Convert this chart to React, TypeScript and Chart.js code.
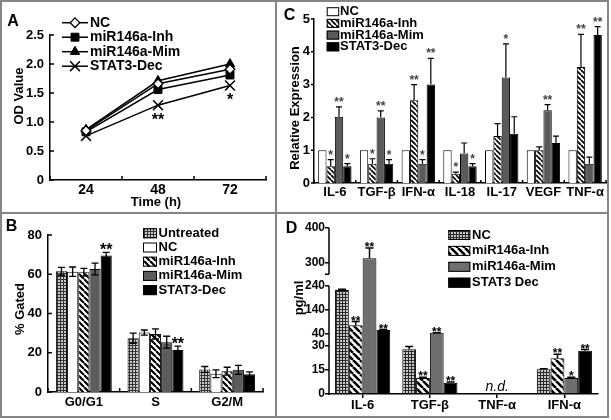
import React, { useEffect, useRef } from "react";
import { Chart, registerables, LinearScale } from "chart.js";

Chart.register(...registerables);

const FONT = "'Liberation Sans', Arial, Helvetica, sans-serif";

// ---------------- Panel A (line) ----------------
const timeLabels = ["24", "48", "72"];
const odNC = [0.85, 1.66, 1.91];
const odInh = [0.83, 1.56, 1.81];
const odMim = [0.87, 1.71, 2.0];
const odStat = [0.76, 1.29, 1.63];
const odStatStars = ["", "**", "*"];

// ---------------- Panel B (cell cycle) ----------------
const phaseLabels = ["G0/G1", "S", "G2/M"];
const gUntreated = [61.5, 27.4, 11.5];
const gUntreatedErr = [2.0, 2.6, 1.5];
const gNC = [61.3, 30.3, 9.3];
const gNCErr = [2.4, 1.3, 2.0];
const gInh = [61.0, 29.6, 10.6];
const gInhErr = [2.0, 2.6, 2.0];
const gMim = [62.7, 25.4, 11.3];
const gMimErr = [3.0, 3.0, 2.3];
const gStat = [69.6, 21.4, 9.1];
const gStatErr = [1.5, 2.0, 1.2];
const gStatStars = ["**", "**", ""];

// ---------------- Panel C (relative expression) ----------------
const cytoLabelsC = ["IL-6", "TGF-\u03b2", "IFN-\u03b1", "IL-18", "IL-17", "VEGF", "TNF-\u03b1"];
const cNC = [1, 1, 1, 1, 1, 1, 1];
const cInh = [0.51, 0.59, 2.52, 0.28, 1.43, 1.0, 3.54];
const cInhErr = [0.2, 0.15, 0.48, 0.05, 0.38, 0.1, 0.99];
const cInhStars = ["*", "*", "**", "*", "", "", "**"];
const cMim = [2.02, 2.0, 0.59, 0.9, 3.22, 2.22, 0.59];
const cMimErr = [0.3, 0.2, 0.12, 0.32, 1.02, 0.17, 0.2];
const cMimStars = ["**", "**", "*", "", "*", "**", ""];
const cStat = [0.51, 0.59, 3.0, 0.51, 1.5, 1.22, 4.51];
const cStatErr = [0.08, 0.12, 0.8, 0.08, 0.52, 0.21, 0.26];
const cStatStars = ["*", "*", "**", "*", "", "", "**"];

// ---------------- Panel D (pg/ml) ----------------
const cytoLabelsD = ["IL-6", "TGF-\u03b2", "TNF-\u03b1", "IFN-\u03b1"];
const dNC = [223, 28, null, 15.5];
const dNCErr = [3, 1.7, 0, 0.3];
const dInh = [77, 10, null, 22.3];
const dInhErr = [15, 0.4, 0, 2.5];
const dInhStars = ["**", "**", "", "**"];
const dMim = [313, 45, null, 10];
const dMimErr = [29, 0.8, 0, 0.5];
const dMimStars = ["**", "**", "", "*"];
const dStat = [57, 7, null, 27];
const dStatErr = [2, 0.5, 0, 0.8];
const dStatStars = ["**", "**", "", "**"];
const dTicks = [0, 15, 30, 40, 140, 240, 300, 400];
const dBreakValues = [0, 30, 40, 240, 300, 400];

// ---------------- broken linear scale ----------------
class BrokenScale extends LinearScale {
  static id = "broken";
  static defaults = (LinearScale as any).defaults;
  buildTicks() {
    super.buildTicks();
    const tv = (this.options as any).tickValues as number[];
    return tv.map((v) => ({ value: v }));
  }
  _dec(v: number) {
    const o: any = this.options;
    const vals: number[] = o.breakValues;
    const fr: number[] = o.breakFractions;
    for (let i = 1; i < vals.length; i++) {
      if (v <= vals[i] || i === vals.length - 1) {
        const t = (v - vals[i - 1]) / (vals[i] - vals[i - 1]);
        return fr[i - 1] + t * (fr[i] - fr[i - 1]);
      }
    }
    return 0;
  }
  getPixelForValue(v: any) {
    if (v === null || v === undefined || isNaN(v)) return NaN;
    return this.getPixelForDecimal(this._dec(+v));
  }
  getValueForPixel(p: number) {
    const d = this.getDecimalForPixel(p);
    const o: any = this.options;
    const vals: number[] = o.breakValues;
    const fr: number[] = o.breakFractions;
    for (let i = 1; i < fr.length; i++) {
      if (d <= fr[i] || i === fr.length - 1) {
        const t = (d - fr[i - 1]) / (fr[i] - fr[i - 1]);
        return vals[i - 1] + t * (vals[i] - vals[i - 1]);
      }
    }
    return 0;
  }
}
Chart.register(BrokenScale as any);

// ---------------- patterns ----------------
function makeHatch(size: number, lw: number) {
  const c = document.createElement("canvas");
  c.width = size;
  c.height = size;
  const g = c.getContext("2d")!;
  g.fillStyle = "#fff";
  g.fillRect(0, 0, size, size);
  g.strokeStyle = "#000";
  g.lineWidth = lw;
  g.beginPath();
  for (const o of [-size, 0, size]) {
    g.moveTo(o, 0);
    g.lineTo(o + size, size);
  }
  g.stroke();
  return g.createPattern(c, "repeat")!;
}
function makeChecker(dark: string, light: string) {
  const c = document.createElement("canvas");
  c.width = 3;
  c.height = 3;
  const g = c.getContext("2d")!;
  g.fillStyle = dark;
  g.fillRect(0, 0, 3, 3);
  g.fillStyle = light;
  g.fillRect(1, 1, 2, 2);
  return g.createPattern(c, "repeat")!;
}

// ---------------- decoration plugin ----------------
type Decor = {
  legend?: { kind: "line" | "box"; x: number; y: number; step: number; boxW: number; boxH: number; textX: number; font: string };
  xTicks?: { len: number };
  yTicks?: { len: number; dir: "in" | "out" };
  err?: { both: boolean; cap: number; width: number };
  stars?: { font: string; color: string; gap: number; below?: boolean };
  broken?: { upper: [number, number]; lower: [number, number]; endTickLen: number };
  nd?: { text: string; font: string; dy: number };
};

function drawMarker(ctx: CanvasRenderingContext2D, style: string, x: number, y: number, r: number, fill: string, lw: number) {
  ctx.save();
  ctx.strokeStyle = "#000";
  ctx.fillStyle = fill;
  ctx.lineWidth = lw;
  ctx.beginPath();
  if (style === "rectRot") {
    ctx.moveTo(x, y - r);
    ctx.lineTo(x + r, y);
    ctx.lineTo(x, y + r);
    ctx.lineTo(x - r, y);
    ctx.closePath();
    ctx.fill();
    ctx.stroke();
  } else if (style === "rect") {
    const s = Math.SQRT1_2 * r;
    ctx.rect(x - s, y - s, 2 * s, 2 * s);
    ctx.fill();
    ctx.stroke();
  } else if (style === "triangle") {
    let a = 0;
    for (let k = 0; k < 3; k++) {
      const px = x + Math.sin(a) * r;
      const py = y - Math.cos(a) * r;
      if (k === 0) ctx.moveTo(px, py);
      else ctx.lineTo(px, py);
      a += (2 * Math.PI) / 3;
    }
    ctx.closePath();
    ctx.fill();
    ctx.stroke();
  } else if (style === "crossRot") {
    const o = Math.SQRT1_2 * r;
    ctx.moveTo(x - o, y - o);
    ctx.lineTo(x + o, y + o);
    ctx.moveTo(x - o, y + o);
    ctx.lineTo(x + o, y - o);
    ctx.stroke();
  }
  ctx.restore();
}

function makeDecor(d: Decor) {
  return {
    id: "decor",
    afterDatasetsDraw(chart: any) {
      const ctx: CanvasRenderingContext2D = chart.ctx;
      const ys = chart.scales.y;
      ctx.save();
      chart.data.datasets.forEach((ds: any, di: number) => {
        const meta = chart.getDatasetMeta(di);
        meta.data.forEach((el: any, i: number) => {
          const v = ds.data[i];
          if (v === null || v === undefined) return;
          const x = el.x;
          let top = el.y;
          if (d.err && ds.errors && ds.errors[i]) {
            const e = ds.errors[i];
            const yt = ys.getPixelForValue(v + e);
            const yb = d.err.both ? ys.getPixelForValue(v - e) : el.y;
            ctx.strokeStyle = "#000";
            ctx.lineWidth = d.err.width;
            ctx.beginPath();
            ctx.moveTo(x, yt);
            ctx.lineTo(x, yb);
            ctx.moveTo(x - d.err.cap, yt);
            ctx.lineTo(x + d.err.cap, yt);
            if (d.err.both) {
              ctx.moveTo(x - d.err.cap, yb);
              ctx.lineTo(x + d.err.cap, yb);
            }
            ctx.stroke();
            top = yt;
          }
          if (d.stars && ds.stars && ds.stars[i]) {
            ctx.font = d.stars.font;
            ctx.fillStyle = d.stars.color;
            ctx.textAlign = "center";
            ctx.textBaseline = "alphabetic";
            const y = d.stars.below ? el.y + d.stars.gap : top - d.stars.gap;
            ctx.fillText(ds.stars[i], x, y);
          }
        });
      });
      ctx.restore();
    },
    afterDraw(chart: any) {
      const ctx: CanvasRenderingContext2D = chart.ctx;
      const xs = chart.scales.x;
      const ys = chart.scales.y;
      const area = chart.chartArea;
      ctx.save();
      ctx.strokeStyle = "#000";
      ctx.lineWidth = 1.5;
      if (d.yTicks) {
        const { len, dir } = d.yTicks;
        ctx.beginPath();
        ys.ticks.forEach((t: any) => {
          const y = ys.getPixelForValue(t.value);
          ctx.moveTo(area.left, y);
          ctx.lineTo(dir === "in" ? area.left + len : area.left - len, y);
        });
        ctx.stroke();
      }
      if (d.xTicks) {
        const n = chart.data.labels.length;
        const c0 = xs.getPixelForValue(0);
        const half = n > 1 ? (xs.getPixelForValue(1) - c0) / 2 : (area.right - area.left) / 2;
        ctx.beginPath();
        for (let i = 0; i <= n; i++) {
          const x = i < n ? xs.getPixelForValue(i) - half : xs.getPixelForValue(n - 1) + half;
          ctx.moveTo(x, area.bottom);
          ctx.lineTo(x, area.bottom - d.xTicks.len);
        }
        ctx.stroke();
      }
      if (d.broken) {
        const x = area.left;
        ctx.beginPath();
        ctx.moveTo(x, ys.getPixelForValue(d.broken.upper[0]));
        ctx.lineTo(x, ys.getPixelForValue(d.broken.upper[1]));
        ctx.moveTo(x - d.broken.endTickLen, ys.getPixelForValue(d.broken.upper[1]));
        ctx.lineTo(x, ys.getPixelForValue(d.broken.upper[1]));
        ctx.moveTo(x, ys.getPixelForValue(d.broken.lower[0]));
        ctx.lineTo(x, ys.getPixelForValue(d.broken.lower[1]) + 0.75);
        ctx.stroke();
      }
      if (d.nd) {
        const n = chart.data.labels.length;
        for (let i = 0; i < n; i++) {
          const all = chart.data.datasets.every((ds: any) => ds.data[i] === null || ds.data[i] === undefined);
          if (all) {
            ctx.font = d.nd.font;
            ctx.fillStyle = "#000";
            ctx.textAlign = "center";
            ctx.textBaseline = "middle";
            ctx.fillText(d.nd.text, xs.getPixelForValue(i), ys.getPixelForValue(0) - d.nd.dy);
          }
        }
      }
      if (d.legend) {
        const L = d.legend;
        chart.data.datasets.forEach((ds: any, i: number) => {
          const y = L.y + i * L.step;
          if (L.kind === "line") {
            ctx.strokeStyle = "#000";
            ctx.lineWidth = 1.5;
            ctx.beginPath();
            ctx.moveTo(L.x, y);
            ctx.lineTo(L.x + L.boxW, y);
            ctx.stroke();
            drawMarker(ctx, ds.pointStyle, L.x + L.boxW / 2, y, ds.pointRadius, ds.pointBackgroundColor, ds.pointBorderWidth);
          } else {
            ctx.fillStyle = ds.backgroundColor;
            ctx.fillRect(L.x, y - L.boxH / 2, L.boxW, L.boxH);
            ctx.strokeStyle = "#000";
            ctx.lineWidth = 1;
            ctx.strokeRect(L.x + 0.5, y - L.boxH / 2 + 0.5, L.boxW - 1, L.boxH - 1);
          }
          ctx.font = L.font;
          ctx.fillStyle = "#000";
          ctx.textAlign = "left";
          ctx.textBaseline = "middle";
          ctx.fillText(ds.label, L.textX, y);
        });
      }
      ctx.restore();
    },
  };
}

const bold = (s: number) => `bold ${s}px ${FONT}`;
const tickFont = (s: number) => ({ family: FONT, size: s, weight: "bold" as const });
const axisBorder = { display: true, color: "#000", width: 1.5 };
const noGrid = { display: false, drawTicks: false };
const basePlugins = { legend: { display: false }, tooltip: { enabled: false } };

function configA() {
  return {
    type: "line",
    data: {
      labels: timeLabels,
      datasets: [
        { label: "NC", data: odNC, pointStyle: "rectRot", pointRadius: 4.8, pointBackgroundColor: "#fff", pointBorderWidth: 1.3 },
        { label: "miR146a-Inh", data: odInh, pointStyle: "rect", pointRadius: 5.6, pointBackgroundColor: "#000", pointBorderWidth: 1 },
        { label: "miR146a-Mim", data: odMim, pointStyle: "triangle", pointRadius: 5.4, pointBackgroundColor: "#000", pointBorderWidth: 1 },
        { label: "STAT3-Dec", data: odStat, pointStyle: "crossRot", pointRadius: 7, pointBackgroundColor: "#000", pointBorderWidth: 1.5, stars: odStatStars },
      ].map((ds) => ({ ...ds, borderColor: "#000", borderWidth: 1.5, pointBorderColor: "#000", fill: false, tension: 0 })),
    },
    options: {
      responsive: false,
      animation: false,
      events: [],
      devicePixelRatio: 1,
      layout: { padding: { left: 0, top: 35, right: 10, bottom: 0 } },
      plugins: basePlugins,
      scales: {
        x: {
          offset: true,
          grid: noGrid,
          border: axisBorder,
          ticks: { font: tickFont(14), color: "#000", padding: 2, maxRotation: 0, minRotation: 0 },
          afterFit: (s: any) => { s.height = 33; },
        },
        y: {
          min: 0,
          max: 2.5,
          grid: noGrid,
          border: axisBorder,
          ticks: { stepSize: 0.5, font: tickFont(13), color: "#000", padding: 6, callback: (v: any) => (v === 0 ? "0" : Number(v).toFixed(1)) },
          afterFit: (s: any) => { s.width = 50; },
        },
      },
    },
    plugins: [
      makeDecor({
        xTicks: { len: 4 },
        yTicks: { len: 4, dir: "in" },
        stars: { font: bold(16), color: "#000", gap: 20, below: true },
        legend: { kind: "line", x: 62, y: 22.7, step: 14.5, boxW: 26, boxH: 0, textX: 90, font: bold(14) },
      }),
    ],
  };
}

function configB() {
  const hatch = makeHatch(6, 2.2);
  const checker = makeChecker("#333", "#c8c8c8");
  const bar = { borderColor: "#000", borderWidth: 1, categoryPercentage: 0.78, barPercentage: 1 };
  return {
    type: "bar",
    data: {
      labels: phaseLabels,
      datasets: [
        { label: "Untreated", data: gUntreated, errors: gUntreatedErr, backgroundColor: checker, ...bar },
        { label: "NC", data: gNC, errors: gNCErr, backgroundColor: "#fff", ...bar },
        { label: "miR146a-Inh", data: gInh, errors: gInhErr, backgroundColor: hatch, ...bar },
        { label: "miR146a-Mim", data: gMim, errors: gMimErr, backgroundColor: "#5c5c5c", ...bar },
        { label: "STAT3-Dec", data: gStat, errors: gStatErr, stars: gStatStars, backgroundColor: "#000", ...bar },
      ],
    },
    options: {
      responsive: false,
      animation: false,
      events: [],
      devicePixelRatio: 1,
      layout: { padding: { left: 0, top: 22, right: 13, bottom: 0 } },
      plugins: basePlugins,
      scales: {
        x: {
          grid: noGrid,
          border: axisBorder,
          ticks: { font: tickFont(13), color: "#000", padding: 3, maxRotation: 0, minRotation: 0 },
          afterFit: (s: any) => { s.height = 28; },
        },
        y: {
          min: 0,
          max: 80,
          grid: noGrid,
          border: axisBorder,
          ticks: { stepSize: 20, font: tickFont(13), color: "#000", padding: 6 },
          afterFit: (s: any) => { s.width = 48; },
        },
      },
    },
    plugins: [
      makeDecor({
        xTicks: { len: 4 },
        yTicks: { len: 4, dir: "in" },
        err: { both: true, cap: 3.5, width: 1.3 },
        stars: { font: bold(16), color: "#000", gap: -2.5 },
        legend: { kind: "box", x: 143, y: 20.3, step: 14.2, boxW: 14, boxH: 10, textX: 158.5, font: bold(13) },
      }),
    ],
  };
}

function configC() {
  const hatch = makeHatch(5, 1.8);
  const bar = { borderColor: "#000", borderWidth: 1, categoryPercentage: 0.8, barPercentage: 1 };
  return {
    type: "bar",
    data: {
      labels: cytoLabelsC,
      datasets: [
        { label: "NC", data: cNC, backgroundColor: "#fff", ...bar },
        { label: "miR146a-Inh", data: cInh, errors: cInhErr, stars: cInhStars, backgroundColor: hatch, ...bar },
        { label: "miR146a-Mim", data: cMim, errors: cMimErr, stars: cMimStars, backgroundColor: "#5a5a5a", ...bar },
        { label: "STAT3-Dec", data: cStat, errors: cStatErr, stars: cStatStars, backgroundColor: "#000", ...bar },
      ],
    },
    options: {
      responsive: false,
      animation: false,
      events: [],
      devicePixelRatio: 1,
      layout: { padding: { left: 0, top: 19, right: 5, bottom: 0 } },
      plugins: basePlugins,
      scales: {
        x: {
          grid: noGrid,
          border: axisBorder,
          ticks: { font: tickFont(13), color: "#000", padding: 2, maxRotation: 0, minRotation: 0, autoSkip: false },
          afterFit: (s: any) => { s.height = 30; },
        },
        y: {
          min: 0,
          max: 5,
          grid: noGrid,
          border: axisBorder,
          ticks: { stepSize: 1, font: tickFont(13), color: "#000", padding: 4 },
          afterFit: (s: any) => { s.width = 38; },
        },
      },
    },
    plugins: [
      makeDecor({
        xTicks: { len: 3 },
        yTicks: { len: 3, dir: "out" },
        err: { both: false, cap: 3, width: 1.2 },
        stars: { font: bold(12), color: "#444", gap: 1 },
        legend: { kind: "box", x: 50.7, y: 11.7, step: 11.7, boxW: 12.5, boxH: 9, textX: 64, font: bold(13) },
      }),
    ],
  };
}

function configD() {
  const hatch = makeHatch(7, 2.6);
  const checker = makeChecker("#2a2a2a", "#c8c8c8");
  const bar = { borderColor: "#000", borderWidth: 1, categoryPercentage: 0.82, barPercentage: 1 };
  return {
    type: "bar",
    data: {
      labels: cytoLabelsD,
      datasets: [
        { label: "NC", data: dNC, errors: dNCErr, backgroundColor: checker, ...bar },
        { label: "miR146a-Inh", data: dInh, errors: dInhErr, stars: dInhStars, backgroundColor: hatch, ...bar },
        { label: "miR146a-Mim", data: dMim, errors: dMimErr, stars: dMimStars, backgroundColor: "#6e6e6e", ...bar },
        { label: "STAT3 Dec", data: dStat, errors: dStatErr, stars: dStatStars, backgroundColor: "#000", ...bar },
      ],
    },
    options: {
      responsive: false,
      animation: false,
      events: [],
      devicePixelRatio: 1,
      layout: { padding: { left: 0, top: 15, right: 13, bottom: 0 } },
      plugins: basePlugins,
      scales: {
        x: {
          grid: { display: true, drawOnChartArea: false, drawTicks: true, tickLength: 4, offset: false, color: "#000", lineWidth: 1.5 },
          border: axisBorder,
          ticks: { font: tickFont(13), color: "#000", padding: 0, maxRotation: 0, minRotation: 0, autoSkip: false },
          afterFit: (s: any) => { s.height = 26; },
        },
        y: {
          type: "broken",
          min: 0,
          max: 400,
          tickValues: dTicks,
          breakValues: dBreakValues,
          breakFractions: [0, 0.289, 0.361, 0.651, 0.791, 1],
          grid: { display: true, drawOnChartArea: false, drawTicks: true, tickLength: 4, color: "#000", lineWidth: 1.5 },
          border: { display: false },
          ticks: { autoSkip: false, font: tickFont(12), color: "#000", padding: 0, callback: (v: any) => String(v) },
          afterFit: (s: any) => { s.width = 53; },
        },
      },
    },
    plugins: [
      makeDecor({
        err: { both: false, cap: 4, width: 1.5 },
        stars: { font: bold(12), color: "#000", gap: -3 },
        broken: { upper: [400, 270], lower: [240, 0], endTickLen: 4 },
        nd: { text: "n.d.", font: `italic 14px ${FONT}`, dy: 7 },
        legend: { kind: "box", x: 172.3, y: 22, step: 15.9, boxW: 22, boxH: 10, textX: 196, font: bold(13) },
      }),
    ],
  };
}

function Panel(props: { left: number; top: number; width: number; height: number; make: () => any }) {
  const ref = useRef<HTMLCanvasElement>(null);
  useEffect(() => {
    const chart = new Chart(ref.current as HTMLCanvasElement, props.make());
    return () => chart.destroy();
  }, []);
  return (
    <canvas
      ref={ref}
      width={props.width}
      height={props.height}
      style={{ position: "absolute", left: props.left, top: props.top, width: props.width, height: props.height, display: "block" }}
    />
  );
}

function Label(props: { text: string; x: number; y: number; size: number; rot?: boolean }) {
  return (
    <div
      style={{
        position: "absolute",
        left: props.x,
        top: props.y,
        transform: `translate(-50%, -50%)${props.rot ? " rotate(-90deg)" : ""}`,
        font: `bold ${props.size}px ${FONT}`,
        lineHeight: 1,
        whiteSpace: "nowrap",
        color: "#000",
      }}
    >
      {props.text}
    </div>
  );
}

export default function App() {
  const line = "#858585";
  return (
    <div style={{ position: "absolute", left: 0, top: 0, width: 611, height: 420, background: "#fff", overflow: "hidden" }}>
      <Panel left={0} top={0} width={276} height={213} make={configA} />
      <Panel left={276} top={0} width={335} height={213} make={configC} />
      <Panel left={0} top={213} width={276} height={207} make={configB} />
      <Panel left={276} top={213} width={335} height={207} make={configD} />
      <Label text="A" x={13} y={20.5} size={16} />
      <Label text="B" x={11.5} y={226} size={16} />
      <Label text="C" x={289.5} y={14.5} size={16} />
      <Label text="D" x={291.5} y={227.5} size={16} />
      <Label text="OD Value" x={18} y={96} size={13} rot />
      <Label text="Time (h)" x={156} y={201} size={13} />
      <Label text="% Gated" x={18.7} y={308.5} size={13} rot />
      <Label text="Relative Expression" x={294} y={108} size={13} rot />
      <Label text="pg/ml" x={298} y={298} size={13} rot />
      <div style={{ position: "absolute", left: 0, top: 0, width: 609, height: 418, boxSizing: "border-box", border: `2px solid ${line}` }} />
      <div style={{ position: "absolute", left: 275, top: 0, width: 2, height: 418, background: line }} />
      <div style={{ position: "absolute", left: 0, top: 212, width: 609, height: 2, background: line }} />
    </div>
  );
}
